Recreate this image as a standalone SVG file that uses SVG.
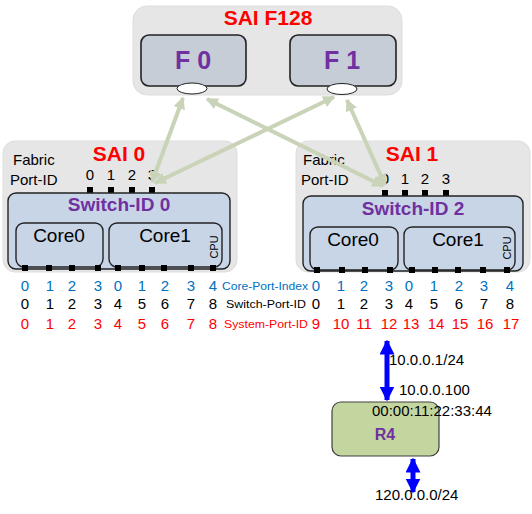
<svg xmlns="http://www.w3.org/2000/svg" width="532" height="514" viewBox="0 0 532 514">
<defs>
<style>
.outer{fill:#e6e6e6;stroke:#dddddd;stroke-width:1}
.fbox{fill:#c6cdd7;stroke:#222;stroke-width:1.6}
.sw{fill:#c8d5e7;stroke:#222;stroke-width:1.4}
.core{fill:#c8d5e7;stroke:#222;stroke-width:1.4}
.sq{fill:#000}
.title{font-family:"Liberation Sans",Arial,sans-serif;font-weight:bold;fill:#ff0000;font-size:21px;text-anchor:middle}
.purple{font-family:"Liberation Sans",Arial,sans-serif;font-weight:bold;fill:#7030a0;text-anchor:middle}
.t{font-family:"Liberation Sans",Arial,sans-serif;fill:#000}
.core-t{font-family:"Liberation Sans",Arial,sans-serif;fill:#000;font-size:19px;text-anchor:middle}
.num{font-family:"Liberation Sans",Arial,sans-serif;font-size:15px;text-anchor:middle}
.blue{fill:#0070c0}
.red{fill:#ff0000}
.blk{fill:#000}
.lbl{font-family:"Liberation Sans",Arial,sans-serif;font-size:11px}
.fab{stroke:#c9d3b7;stroke-width:4;fill:none}
.bl{stroke:#0000ff;stroke-width:5;fill:none}
</style>
<marker id="ga" viewBox="0 0 10 10" refX="9" refY="5" markerWidth="12" markerHeight="12" markerUnits="userSpaceOnUse" orient="auto-start-reverse">
<path d="M0,0 L10,5 L0,10 z" fill="#c9d3b7"/>
</marker>
<marker id="ba" viewBox="0 0 10 10" refX="9" refY="5" markerWidth="15" markerHeight="15" markerUnits="userSpaceOnUse" orient="auto-start-reverse">
<path d="M0,0 L10,5 L0,10 z" fill="#0000ff"/>
</marker>
</defs>

<g id="sai-f128">
<rect class="outer" x="133" y="6" width="269" height="89" rx="14"/>
<text class="title" x="268" y="25">SAI F128</text>
</g>
<g id="f0">
<rect class="fbox" x="141" y="35" width="105" height="51" rx="8"/>
<text class="purple" x="193" y="69" font-size="25">F 0</text>
<ellipse cx="192" cy="88.5" rx="15" ry="5.5" fill="#fff" stroke="#222" stroke-width="1"/>
</g>
<g id="f1">
<rect class="fbox" x="290" y="35" width="106" height="51" rx="8"/>
<text class="purple" x="342" y="69" font-size="25">F 1</text>
<ellipse cx="342" cy="89" rx="15" ry="5.5" fill="#fff" stroke="#222" stroke-width="1"/>
</g>

<g id="sai0">
<rect class="outer" x="3" y="141" width="234" height="131" rx="12"/>
<text class="title" x="119" y="161">SAI 0</text>
<text class="t" x="13" y="165" font-size="15">Fabric</text>
<text class="t" x="10" y="185" font-size="15">Port-ID</text>
<text class="num blk" x="90" y="180">0</text>
<text class="num blk" x="111" y="180">1</text>
<text class="num blk" x="132" y="180">2</text>
<text class="num blk" x="152" y="180">3</text>
<rect class="sq" x="87" y="187" width="6" height="6"/>
<rect class="sq" x="108" y="187" width="6" height="6"/>
<rect class="sq" x="129" y="187" width="6" height="6"/>
<rect class="sq" x="149" y="187" width="6" height="6"/>
</g>
<g id="switch0">
<rect class="sw" x="8" y="193" width="222" height="76" rx="8"/>
<text class="purple" x="119" y="211" font-size="19">Switch-ID 0</text>
</g>
<g id="sai0-core0">
<rect class="core" x="16" y="223" width="87" height="44" rx="8"/>
<text class="core-t" x="59" y="242">Core0</text>
</g>
<g id="sai0-core1">
<rect class="core" x="109" y="223" width="113" height="44" rx="8"/>
<text class="core-t" x="165" y="242">Core1</text>
<text class="t" font-size="11" text-anchor="middle" transform="translate(218,247) rotate(-90)">CPU</text>
</g>
<g id="sai0-ports">
<rect class="sq" x="22" y="265" width="6" height="6"/>
<rect class="sq" x="46" y="265" width="6" height="6"/>
<rect class="sq" x="69" y="265" width="6" height="6"/>
<rect class="sq" x="95" y="265" width="6" height="6"/>
<rect class="sq" x="115" y="265" width="6" height="6"/>
<rect class="sq" x="139" y="265" width="6" height="6"/>
<rect class="sq" x="161" y="265" width="6" height="6"/>
<rect class="sq" x="188" y="265" width="6" height="6"/>
<rect class="sq" x="210" y="265" width="6" height="6"/>
</g>

<g id="sai1">
<rect class="outer" x="296" y="141" width="234" height="131" rx="12"/>
<text class="title" x="412" y="161">SAI 1</text>
<text class="t" x="303" y="165" font-size="15">Fabric</text>
<text class="t" x="301" y="185" font-size="15">Port-ID</text>
<text class="num blk" x="385" y="184">0</text>
<text class="num blk" x="405" y="184">1</text>
<text class="num blk" x="425" y="184">2</text>
<text class="num blk" x="446" y="184">3</text>
<rect class="sq" x="382" y="190" width="6" height="6"/>
<rect class="sq" x="402" y="190" width="6" height="6"/>
<rect class="sq" x="422" y="190" width="6" height="6"/>
<rect class="sq" x="443" y="190" width="6" height="6"/>
</g>
<g id="switch2">
<rect class="sw" x="303" y="196" width="220" height="75" rx="8"/>
<text class="purple" x="413" y="215" font-size="19">Switch-ID 2</text>
</g>
<g id="sai1-core0">
<rect class="core" x="310" y="227" width="88" height="43" rx="8"/>
<text class="core-t" x="353" y="246">Core0</text>
</g>
<g id="sai1-core1">
<rect class="core" x="404" y="227" width="111" height="43" rx="8"/>
<text class="core-t" x="458" y="246">Core1</text>
<text class="t" font-size="11" text-anchor="middle" transform="translate(511,248) rotate(-90)">CPU</text>
</g>
<g id="sai1-ports">
<rect class="sq" x="314" y="267" width="6" height="6"/>
<rect class="sq" x="339" y="267" width="6" height="6"/>
<rect class="sq" x="362" y="267" width="6" height="6"/>
<rect class="sq" x="387" y="267" width="6" height="6"/>
<rect class="sq" x="409" y="267" width="6" height="6"/>
<rect class="sq" x="432" y="267" width="6" height="6"/>
<rect class="sq" x="455" y="267" width="6" height="6"/>
<rect class="sq" x="480" y="267" width="6" height="6"/>
<rect class="sq" x="504" y="267" width="6" height="6"/>
</g>

<g id="port-table">
<g class="num blue">
<text x="25" y="291">0</text><text x="50" y="291">1</text><text x="72" y="291">2</text><text x="98" y="291">3</text><text x="118" y="291">0</text><text x="142" y="291">1</text><text x="165" y="291">2</text><text x="191" y="291">3</text><text x="213" y="291">4</text>
<text x="316" y="291">0</text><text x="341" y="291">1</text><text x="364" y="291">2</text><text x="389" y="291">3</text><text x="409" y="291">0</text><text x="434" y="291">1</text><text x="459" y="291">2</text><text x="484" y="291">3</text><text x="510" y="291">4</text>
</g>
<g class="num blk">
<text x="25" y="309">0</text><text x="50" y="309">1</text><text x="72" y="309">2</text><text x="98" y="309">3</text><text x="118" y="309">4</text><text x="142" y="309">5</text><text x="165" y="309">6</text><text x="191" y="309">7</text><text x="213" y="309">8</text>
<text x="316" y="309">0</text><text x="341" y="309">1</text><text x="364" y="309">2</text><text x="389" y="309">3</text><text x="409" y="309">4</text><text x="434" y="309">5</text><text x="459" y="309">6</text><text x="484" y="309">7</text><text x="510" y="309">8</text>
</g>
<g class="num red">
<text x="25" y="329">0</text><text x="50" y="329">1</text><text x="72" y="329">2</text><text x="98" y="329">3</text><text x="118" y="329">4</text><text x="142" y="329">5</text><text x="165" y="329">6</text><text x="191" y="329">7</text><text x="213" y="329">8</text>
<text x="316" y="329">9</text><text x="341" y="329">10</text><text x="364" y="329">11</text><text x="389" y="329">12</text><text x="411" y="329">13</text><text x="436" y="329">14</text><text x="460" y="329">15</text><text x="485" y="329">16</text><text x="511" y="329">17</text>
</g>
<text class="lbl blue" x="222" y="290" textLength="86" lengthAdjust="spacingAndGlyphs">Core-Port-Index</text>
<text class="lbl blk" x="226" y="308" textLength="80" lengthAdjust="spacingAndGlyphs">Switch-Port-ID</text>
<text class="lbl red" x="224" y="328" textLength="84" lengthAdjust="spacingAndGlyphs">System-Port-ID</text>
</g>

<g id="r4">
<rect x="332" y="402" width="107" height="54" rx="9" fill="#c4d6a0" stroke="#404040" stroke-width="1.2"/>
<text class="purple" x="385" y="440" font-size="16">R4</text>
</g>

<g id="connectors">
<line class="fab" x1="183" y1="98" x2="152" y2="182" marker-start="url(#ga)" marker-end="url(#ga)"/>
<line class="fab" x1="207" y1="99" x2="383" y2="186" marker-start="url(#ga)" marker-end="url(#ga)"/>
<line class="fab" x1="334" y1="97" x2="155" y2="183" marker-start="url(#ga)" marker-end="url(#ga)"/>
<line class="fab" x1="347" y1="100" x2="385" y2="185" marker-start="url(#ga)" marker-end="url(#ga)"/>
<line class="bl" x1="387" y1="341" x2="387" y2="400" marker-start="url(#ba)" marker-end="url(#ba)"/>
<line class="bl" x1="413" y1="459" x2="413" y2="492" marker-start="url(#ba)" marker-end="url(#ba)"/>
</g>

<g id="labels">
<text class="t" x="389" y="365" font-size="15">10.0.0.1/24</text>
<text class="t" x="399" y="395" font-size="15">10.0.0.100</text>
<text class="t" x="372" y="416" font-size="15">00:00:11:22:33:44</text>
<text class="t" x="375" y="500" font-size="15">120.0.0.0/24</text>
</g>
</svg>
